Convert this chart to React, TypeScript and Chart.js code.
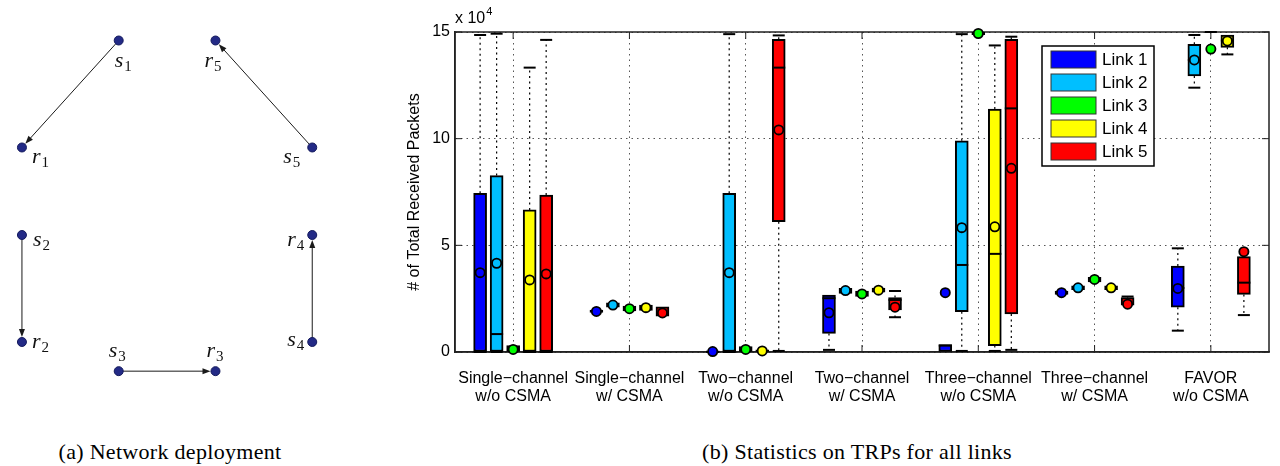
import { useEffect, useRef } from 'react';
import { Chart, registerables } from 'chart.js';

Chart.register(...registerables);

// ---------- Box plot data (values in units of 10^4 packets) ----------
const categories = [
  ['Single\u2212channel', 'w/o CSMA'],
  ['Single\u2212channel', 'w/ CSMA'],
  ['Two\u2212channel', 'w/o CSMA'],
  ['Two\u2212channel', 'w/ CSMA'],
  ['Three\u2212channel', 'w/o CSMA'],
  ['Three\u2212channel', 'w/ CSMA'],
  ['FAVOR', 'w/o CSMA'],
];
const linkNames = ['Link 1', 'Link 2', 'Link 3', 'Link 4', 'Link 5'];
const yTicks = [0, 5, 10, 15];

// [link][category]
const boxQ1 = [
  [0, 1.85, 0, 0.87, 0, 2.7, 2.1],
  [0, 2.1, 0, 2.75, 1.89, 2.92, 12.94],
  [0, 1.92, 0, 2.6, 14.88, 3.28, null],
  [0, 1.95, 0, 2.8, 0.3, 2.92, 14.28],
  [0, 1.68, 6.11, 1.97, 1.78, 2.2, 2.7],
];
const boxQ3 = [
  [7.44, 1.97, 0.06, 2.67, 0.35, 2.86, 4.03],
  [8.27, 2.3, 7.44, 2.98, 9.9, 3.1, 14.42],
  [0.3, 2.15, 0.25, 2.85, 15.0, 3.5, null],
  [6.66, 2.2, 0.1, 3.0, 11.39, 3.1, 14.86],
  [7.36, 2.12, 14.66, 2.55, 14.66, 2.55, 4.47],
];
const boxMedian = [
  [0, null, 0, 2.52, 0.3, null, 3.0],
  [0.84, null, 0, null, 4.08, null, 13.69],
  [null, null, null, null, null, null, null],
  [0, null, null, null, 4.6, null, 14.6],
  [0, null, 13.33, 2.44, 11.42, null, 3.25],
];
const whiskerMin = [
  [0, null, null, 0.1, null, null, 1.0],
  [0, null, 0, null, 0.05, null, 12.39],
  [null, null, null, null, null, null, null],
  [0, null, null, null, 0.05, null, 13.95],
  [0, null, 0.05, 1.63, 0.1, null, 1.73],
];
const whiskerMax = [
  [14.86, null, null, null, null, null, 4.86],
  [14.92, null, 14.9, null, 14.9, null, 14.86],
  [null, null, null, null, null, null, 15.0],
  [13.33, null, null, null, 14.37, null, null],
  [14.63, null, 14.84, 2.86, 14.78, 2.6, null],
];
const means = [
  [3.72, 1.9, 0.02, 1.84, 2.78, 2.78, 2.98],
  [4.16, 2.2, 3.72, 2.88, 5.83, 3.01, 13.69],
  [0.12, 2.03, 0.12, 2.72, 14.93, 3.4, 14.2],
  [3.38, 2.08, 0.05, 2.9, 5.87, 3.01, 14.58],
  [3.66, 1.83, 10.41, 2.1, 8.61, 2.24, 4.7],
];

// ---------- Network deployment data (grid units) ----------
const senderX = [1, 0, 1, 3, 3];
const senderY = [0, 2.0, 3.4, 3.1, 1.1];
const receiverX = [0, 0, 2, 3, 2];
const receiverY = [1.1, 3.1, 3.4, 2.0, 0];

// ---------- Styles ----------
const linkColors = ['#0000ff', '#00bfff', '#00ff00', '#ffff00', '#ff0000'];
const linkOffset = 0.142;
const SANS = '"Liberation Sans", Arial, Helvetica, sans-serif';
const SERIF = '"Liberation Serif", "Times New Roman", serif';
const senderLabelOffset = [[-4, 26], [11, 11], [-10, -14], [-25, 4], [-29, 16]];
const receiverLabelOffset = [[10, 16], [10, 6], [-9, -14], [-25, 11], [-11, 26]];

const xPos = (g: number, k: number) => g + (k - 2) * linkOffset;

function line(ctx: CanvasRenderingContext2D, x1: number, y1: number, x2: number, y2: number) {
  ctx.beginPath();
  ctx.moveTo(x1, y1);
  ctx.lineTo(x2, y2);
  ctx.stroke();
}

const boxPlugin = {
  id: 'boxExtras',
  beforeDatasetsDraw(chart: any) {
    const { ctx, chartArea: a, scales } = chart;
    const x = scales.x, y = scales.y;
    ctx.save();
    // inward ticks
    ctx.strokeStyle = '#222';
    ctx.lineWidth = 1;
    const tl = 7;
    x.ticks.forEach((t: any) => {
      const px = x.getPixelForValue(t.value);
      line(ctx, px, a.bottom, px, a.bottom - tl);
      line(ctx, px, a.top, px, a.top + tl);
    });
    y.ticks.forEach((t: any) => {
      const py = y.getPixelForValue(t.value);
      line(ctx, a.left, py, a.left + tl, py);
      line(ctx, a.right, py, a.right - tl, py);
    });
    ctx.lineWidth = 1.5;
    ctx.strokeStyle = '#222';
    ctx.strokeRect(a.left, a.top, a.right - a.left, a.bottom - a.top);
    // whiskers
    for (let k = 0; k < 5; k++) {
      for (let g = 0; g < categories.length; g++) {
        const px = x.getPixelForValue(xPos(g, k));
        const q1 = boxQ1[k][g], q3 = boxQ3[k][g];
        const mn = whiskerMin[k][g], mx = whiskerMax[k][g];
        ctx.strokeStyle = '#000';
        ctx.lineWidth = 1.2;
        ctx.setLineDash([2, 3.5]);
        if (mx != null && q3 != null && mx > q3) line(ctx, px, y.getPixelForValue(q3), px, y.getPixelForValue(mx));
        if (mn != null && q1 != null && mn < q1) line(ctx, px, y.getPixelForValue(q1), px, y.getPixelForValue(mn));
        ctx.setLineDash([]);
        ctx.lineWidth = 2;
        if (mx != null) { const py = y.getPixelForValue(mx); line(ctx, px - 6, py, px + 6, py); }
        if (mn != null) { const py = y.getPixelForValue(mn); line(ctx, px - 6, py, px + 6, py); }
      }
    }
    ctx.restore();
  },
  afterDatasetDraw(chart: any, args: any) {
    if (args.meta.type !== 'bar') return;
    const k = args.index;
    const { ctx, scales } = chart;
    ctx.save();
    ctx.strokeStyle = '#000';
    ctx.lineWidth = 2;
    for (let g = 0; g < categories.length; g++) {
      const m = boxMedian[k][g];
      if (m == null) continue;
      const px = scales.x.getPixelForValue(xPos(g, k));
      const py = scales.y.getPixelForValue(m);
      line(ctx, px - 6.5, py, px + 6.5, py);
    }
    ctx.restore();
  },
  afterDatasetsDraw(chart: any) {
    const { ctx, chartArea: a } = chart;
    ctx.save();
    // legend
    const x0 = a.right - 227, y0 = a.top + 14, w = 112, h = 120;
    ctx.fillStyle = '#fff';
    ctx.fillRect(x0, y0, w, h);
    ctx.strokeStyle = '#000';
    ctx.lineWidth = 1.5;
    ctx.strokeRect(x0, y0, w, h);
    ctx.font = `17px ${SANS}`;
    ctx.textBaseline = 'middle';
    linkNames.forEach((name, k) => {
      const ry = y0 + 5 + k * 23;
      ctx.fillStyle = linkColors[k];
      ctx.fillRect(x0 + 9, ry, 45, 17);
      ctx.strokeStyle = '#333';
      ctx.lineWidth = 1;
      ctx.strokeRect(x0 + 9, ry, 45, 17);
      ctx.fillStyle = '#000';
      ctx.fillText(name, x0 + 60, ry + 9);
    });
    // x 10^4
    ctx.textBaseline = 'alphabetic';
    ctx.font = `16px ${SANS}`;
    ctx.fillText('x 10', a.left, a.top - 9);
    const ww = ctx.measureText('x 10').width;
    ctx.font = `11px ${SANS}`;
    ctx.fillText('4', a.left + ww + 1, a.top - 17);
    ctx.restore();
  },
};

const netPlugin = {
  id: 'netExtras',
  beforeDatasetsDraw(chart: any) {
    const { ctx, scales } = chart;
    ctx.save();
    ctx.strokeStyle = '#1a1a1a';
    ctx.fillStyle = '#1a1a1a';
    ctx.lineWidth = 1;
    for (let k = 0; k < senderX.length; k++) {
      const x1 = scales.x.getPixelForValue(senderX[k]);
      const y1 = scales.y.getPixelForValue(senderY[k]);
      const x2 = scales.x.getPixelForValue(receiverX[k]);
      const y2 = scales.y.getPixelForValue(receiverY[k]);
      const d = Math.hypot(x2 - x1, y2 - y1);
      const ux = (x2 - x1) / d, uy = (y2 - y1) / d;
      const tx = x2 - ux * 5, ty = y2 - uy * 5;
      line(ctx, x1 + ux * 4, y1 + uy * 4, tx - ux * 5, ty - uy * 5);
      const bx = tx - ux * 8, by = ty - uy * 8;
      ctx.beginPath();
      ctx.moveTo(tx, ty);
      ctx.lineTo(bx - uy * 3, by + ux * 3);
      ctx.lineTo(bx + uy * 3, by - ux * 3);
      ctx.closePath();
      ctx.fill();
    }
    ctx.restore();
  },
  afterDatasetsDraw(chart: any) {
    const { ctx, scales } = chart;
    ctx.save();
    ctx.fillStyle = '#111';
    ctx.textBaseline = 'alphabetic';
    const drawLabel = (letter: string, idx: number, px: number, py: number, off: number[]) => {
      const lx = px + off[0], ly = py + off[1];
      ctx.font = `italic 22px ${SERIF}`;
      ctx.fillText(letter, lx, ly);
      const w = ctx.measureText(letter).width;
      ctx.font = `15px ${SERIF}`;
      ctx.fillText(String(idx + 1), lx + w + 1, ly + 4);
    };
    for (let k = 0; k < senderX.length; k++) {
      drawLabel('s', k, scales.x.getPixelForValue(senderX[k]), scales.y.getPixelForValue(senderY[k]), senderLabelOffset[k]);
      drawLabel('r', k, scales.x.getPixelForValue(receiverX[k]), scales.y.getPixelForValue(receiverY[k]), receiverLabelOffset[k]);
    }
    ctx.restore();
  },
};

export default function App() {
  const netRef = useRef<HTMLCanvasElement>(null);
  const boxRef = useRef<HTMLCanvasElement>(null);

  useEffect(() => {
    const nodes = [
      ...senderX.map((v, i) => ({ x: v, y: senderY[i] })),
      ...receiverX.map((v, i) => ({ x: v, y: receiverY[i] })),
    ];
    const net = new Chart(netRef.current as HTMLCanvasElement, {
      type: 'scatter',
      data: {
        datasets: [
          {
            data: nodes,
            pointRadius: 4.5,
            pointBackgroundColor: '#232a86',
            pointBorderColor: '#141a5c',
            pointBorderWidth: 1,
            clip: false,
          } as any,
        ],
      },
      options: {
        animation: false,
        responsive: false,
        events: [],
        layout: { padding: 0 },
        plugins: { legend: { display: false }, tooltip: { enabled: false } },
        scales: {
          x: { type: 'linear', display: false, min: -0.17, max: 3.23 },
          y: { type: 'linear', display: false, min: -0.36, max: 3.64, reverse: true },
        },
      },
      plugins: [netPlugin],
    });

    const datasets: any[] = [];
    for (let k = 0; k < 5; k++) {
      datasets.push({
        type: 'bar',
        label: linkNames[k],
        data: categories
          .map((_, g) => (boxQ1[k][g] == null ? null : { x: xPos(g, k), y: [boxQ1[k][g], boxQ3[k][g]] }))
          .filter((d) => d !== null),
        backgroundColor: linkColors[k],
        borderColor: '#000',
        borderWidth: 2,
        borderSkipped: false,
        barThickness: 13,
        grouped: false,
        order: 2,
      });
    }
    for (let k = 0; k < 5; k++) {
      datasets.push({
        type: 'scatter',
        label: linkNames[k] + ' mean',
        data: means[k].map((m, g) => ({ x: xPos(g, k), y: m })),
        pointRadius: 4.6,
        pointBackgroundColor: linkColors[k],
        pointBorderColor: '#000',
        pointBorderWidth: 1.8,
        clip: false,
        order: 0,
      });
    }

    const box = new Chart(boxRef.current as HTMLCanvasElement, {
      type: 'bar',
      data: { datasets },
      options: {
        animation: false,
        responsive: false,
        events: [],
        layout: { padding: { left: 25, right: 11, top: 32, bottom: 0 } },
        plugins: { legend: { display: false }, tooltip: { enabled: false } },
        scales: {
          x: {
            type: 'linear',
            offset: false,
            min: -0.5,
            max: 6.5,
            afterBuildTicks: (s: any) => {
              s.ticks = categories.map((_, i) => ({ value: i }));
            },
            afterFit: (s: any) => {
              s.height = 68;
            },
            ticks: {
              callback: (v: any) => categories[v as number],
              font: { family: SANS, size: 16, lineHeight: 1.1 },
              color: '#000',
              padding: 18,
              maxRotation: 0,
              autoSkip: false,
            },
            grid: { color: '#555', lineWidth: 1, drawTicks: false, offset: false },
            border: { display: true, color: '#222', width: 1.5, dash: [1.5, 4] },
          },
          y: {
            type: 'linear',
            min: 0,
            max: 15,
            afterBuildTicks: (s: any) => {
              s.ticks = yTicks.map((v) => ({ value: v }));
            },
            afterFit: (s: any) => {
              s.width = 50;
            },
            ticks: { font: { family: SANS, size: 16 }, color: '#000', padding: 5 },
            grid: { color: '#555', lineWidth: 1, drawTicks: false },
            border: { display: true, color: '#222', width: 1.5, dash: [1.5, 4] },
            title: {
              display: true,
              text: '# of Total Received Packets',
              font: { family: SANS, size: 16 },
              color: '#000',
              padding: 0,
            },
          },
        },
      },
      plugins: [boxPlugin],
    });

    return () => {
      net.destroy();
      box.destroy();
    };
  }, []);

  const caption: any = {
    position: 'absolute',
    top: 440,
    fontFamily: SERIF,
    fontSize: 22,
    letterSpacing: '0.3px',
    lineHeight: '24px',
    color: '#000',
    whiteSpace: 'nowrap',
    transform: 'translateX(-50%)',
  };

  return (
    <div style={{ position: 'fixed', left: 0, top: 0, width: 1280, height: 466, background: '#fff', overflow: 'hidden' }}>
      <div style={{ position: 'absolute', left: 0, top: 0, width: 340, height: 400 }}>
        <canvas ref={netRef} width={340} height={400} style={{ width: 340, height: 400, display: 'block' }} />
      </div>
      <div style={{ position: 'absolute', left: 380, top: 0, width: 900, height: 420 }}>
        <canvas ref={boxRef} width={900} height={420} style={{ width: 900, height: 420, display: 'block' }} />
      </div>
      <div style={{ ...caption, left: 170 }}>(a) Network deployment</div>
      <div style={{ ...caption, left: 857 }}>(b) Statistics on TRPs for all links</div>
    </div>
  );
}
